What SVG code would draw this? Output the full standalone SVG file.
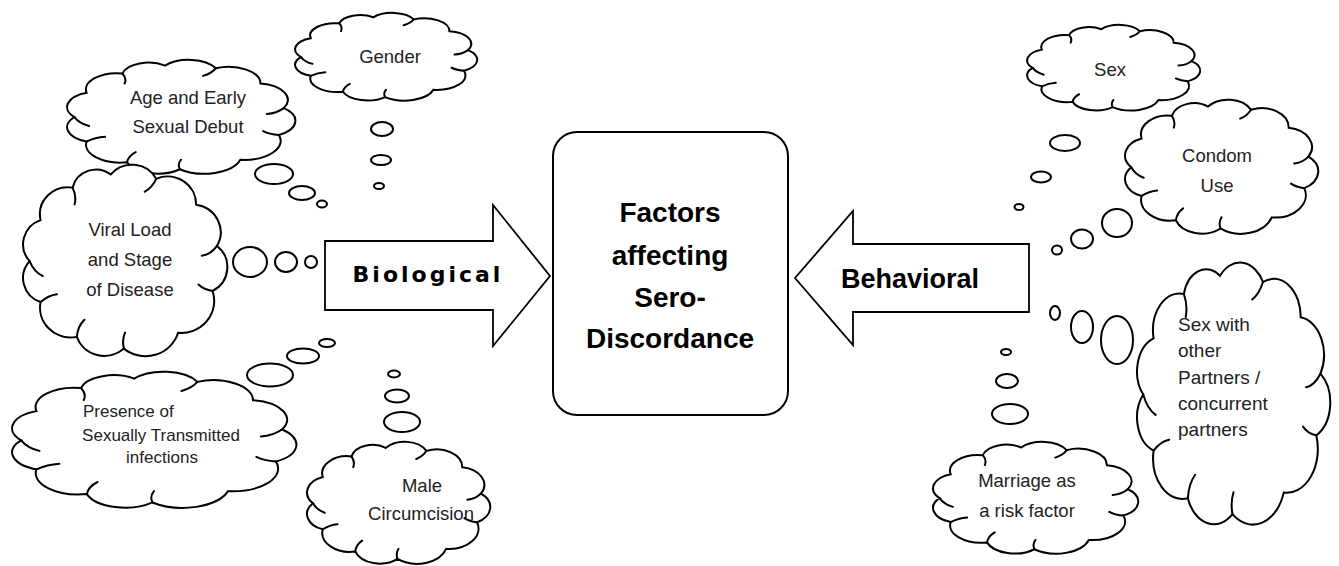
<svg xmlns="http://www.w3.org/2000/svg" xmlns:xlink="http://www.w3.org/1999/xlink" width="1339" height="566" viewBox="0 0 1339 566">
<style>
.cl{fill:#fff;stroke:#000;stroke-width:2;vector-effect:non-scaling-stroke}
.hk{fill:none;stroke:#000;stroke-width:2;vector-effect:non-scaling-stroke;stroke-linecap:round}
.bb{fill:#fff;stroke:#000;stroke-width:2}
.ar{fill:#fff;stroke:#000;stroke-width:1.8;stroke-linejoin:miter}
.box{fill:#fff;stroke:#000;stroke-width:2}
.t{font-family:"Liberation Sans",Arial,sans-serif;font-size:18.5px;fill:#222;text-anchor:middle}
.ts{font-size:17px}
.tl{font-size:19px;text-anchor:start}
.tc{font-family:"Liberation Sans",Arial,sans-serif;font-size:28px;font-weight:bold;fill:#000;text-anchor:middle}
.tbio{font-family:"DejaVu Sans",Verdana,sans-serif;font-size:22px;font-weight:bold;letter-spacing:3px;fill:#000;text-anchor:middle}
.tbeh{font-family:"Liberation Sans",Arial,sans-serif;font-size:27px;font-weight:bold;fill:#000;text-anchor:middle}
</style>
<defs>
<path id="cloud" class="cl" d="M7,50 A12,12 0 0 1 12,30.8 A12.7,12.7 0 0 1 26.6,15.6 A11,11 0 0 1 44,9.4 A12.5,12.5 0 0 1 64.7,11.5 A13,13 0 0 1 82.9,23.6 A13,13 0 0 1 92.4,42.9 A12.7,12.7 0 0 1 90.4,64 A15,15 0 0 1 74.7,83.6 A15.5,15.5 0 0 1 50,91 A13.3,13.3 0 0 1 28.5,85.5 A14,14 0 0 1 12,69.2 A12,12 0 0 1 7,50 Z"/>
<path id="hooks" class="hk" d="M7,50 Q9,55 13,57 M26.6,15.6 Q28.5,19.5 27.5,23.5 M64.7,11.5 Q63,15.5 59.5,17.5 M92.4,42.9 Q89.5,47 85.5,47.5 M90.4,64 Q86.5,63.5 84,61 M50,91 Q49,87 50.5,83.5 M28.5,85.5 Q29,80.5 32,77.5 M12,69.2 Q15.5,66 19.5,65.5"/>
</defs>
<rect width="1339" height="566" fill="#fff"/>

<g id="connectors">
<ellipse class="bb" cx="274" cy="174" rx="19" ry="10"/>
<ellipse class="bb" cx="302" cy="193" rx="13" ry="7"/>
<ellipse class="bb" cx="322" cy="204" rx="5" ry="3.5"/>
<ellipse class="bb" cx="382" cy="129" rx="11" ry="7"/>
<ellipse class="bb" cx="381" cy="160" rx="10" ry="5"/>
<ellipse class="bb" cx="379" cy="186" rx="5" ry="3"/>
<ellipse class="bb" cx="250" cy="262" rx="17" ry="15"/>
<ellipse class="bb" cx="286" cy="262" rx="11" ry="10"/>
<ellipse class="bb" cx="311" cy="262" rx="6" ry="6"/>
<ellipse class="bb" cx="270" cy="375" rx="23" ry="11.5"/>
<ellipse class="bb" cx="303" cy="356" rx="16" ry="7.5"/>
<ellipse class="bb" cx="327" cy="343" rx="8" ry="4"/>
<ellipse class="bb" cx="394" cy="374" rx="6" ry="3.5"/>
<ellipse class="bb" cx="397" cy="396" rx="12" ry="6.5"/>
<ellipse class="bb" cx="402" cy="422" rx="18" ry="10"/>
<ellipse class="bb" cx="1065" cy="143" rx="15" ry="8"/>
<ellipse class="bb" cx="1041" cy="177" rx="10" ry="5.5"/>
<ellipse class="bb" cx="1019" cy="207" rx="4.5" ry="3"/>
<ellipse class="bb" cx="1117" cy="223" rx="15" ry="14"/>
<ellipse class="bb" cx="1082" cy="239" rx="11" ry="9.5"/>
<ellipse class="bb" cx="1057" cy="250" rx="5" ry="4.5"/>
<ellipse class="bb" cx="1055" cy="313" rx="5" ry="7"/>
<ellipse class="bb" cx="1082" cy="327" rx="11" ry="16"/>
<ellipse class="bb" cx="1117" cy="340" rx="16" ry="24"/>
<ellipse class="bb" cx="1006" cy="352" rx="5" ry="3"/>
<ellipse class="bb" cx="1007" cy="381" rx="11" ry="7"/>
<ellipse class="bb" cx="1010" cy="414" rx="18" ry="10"/>
</g>

<g id="node-age">
<use xlink:href="#cloud" href="#cloud" transform="translate(67,60) scale(2.452,1.270) translate(-4,-5)"/>
<use xlink:href="#hooks" href="#hooks" transform="translate(67,60) scale(2.452,1.270) translate(-4,-5)"/>
<text class="t" x="188" y="104">Age and Early</text>
<text class="t" x="188" y="133">Sexual Debut</text>
</g>

<g id="node-gender">
<use xlink:href="#cloud" href="#cloud" transform="translate(295,13) scale(1.957,0.978) translate(-4,-5)"/>
<use xlink:href="#hooks" href="#hooks" transform="translate(295,13) scale(1.957,0.978) translate(-4,-5)"/>
<text class="t" x="390" y="63">Gender</text>
</g>

<g id="node-viral">
<use xlink:href="#cloud" href="#cloud" transform="translate(23,165) scale(2.194,2.135) translate(-4,-5)"/>
<use xlink:href="#hooks" href="#hooks" transform="translate(23,165) scale(2.194,2.135) translate(-4,-5)"/>
<text class="t" x="130" y="236">Viral Load</text>
<text class="t" x="130" y="266">and Stage</text>
<text class="t" x="130" y="296">of Disease</text>
</g>

<g id="node-sti">
<use xlink:href="#cloud" href="#cloud" transform="translate(12,372) scale(3.054,1.517) translate(-4,-5)"/>
<use xlink:href="#hooks" href="#hooks" transform="translate(12,372) scale(3.054,1.517) translate(-4,-5)"/>
<text class="t ts" x="83" y="417" style="text-anchor:start">Presence of</text>
<text class="t ts" x="161" y="441">Sexually Transmitted</text>
<text class="t ts" x="162" y="463">infections</text>
</g>

<g id="node-circumcision">
<use xlink:href="#cloud" href="#cloud" transform="translate(307,442) scale(1.968,1.360) translate(-4,-5)"/>
<use xlink:href="#hooks" href="#hooks" transform="translate(307,442) scale(1.968,1.360) translate(-4,-5)"/>
<text class="t" x="422" y="492">Male</text>
<text class="t" x="421" y="520">Circumcision</text>
</g>

<g id="node-biological">
<path class="ar" d="M325,241 L493,241 L493,205 L550,276 L493,346 L493,310 L325,310 Z"/>
<text class="tbio" x="428" y="282">Biological</text>
</g>

<g id="node-center">
<rect class="box" x="553" y="132" width="235" height="283" rx="24" ry="24"/>
<text class="tc" x="670" y="222">Factors</text>
<text class="tc" x="670" y="265">affecting</text>
<text class="tc" x="670" y="307">Sero-</text>
<text class="tc" x="670" y="348">Discordance</text>
</g>

<g id="node-behavioral">
<path class="ar" d="M1029,244 L853,244 L853,211 L795,278 L853,345 L853,312 L1029,312 Z"/>
<text class="tbeh" x="910" y="288">Behavioral</text>
</g>

<g id="node-sex">
<use xlink:href="#cloud" href="#cloud" transform="translate(1027,25) scale(1.860,0.955) translate(-4,-5)"/>
<use xlink:href="#hooks" href="#hooks" transform="translate(1027,25) scale(1.860,0.955) translate(-4,-5)"/>
<text class="t" x="1110" y="76">Sex</text>
</g>

<g id="node-condom">
<use xlink:href="#cloud" href="#cloud" transform="translate(1125,100) scale(2.075,1.494) translate(-4,-5)"/>
<use xlink:href="#hooks" href="#hooks" transform="translate(1125,100) scale(2.075,1.494) translate(-4,-5)"/>
<text class="t" x="1217" y="162">Condom</text>
<text class="t" x="1217" y="192">Use</text>
</g>

<g id="node-partners">
<use xlink:href="#cloud" href="#cloud" transform="translate(1137,263) scale(2.075,2.921) translate(-4,-5)"/>
<use xlink:href="#hooks" href="#hooks" transform="translate(1137,263) scale(2.075,2.921) translate(-4,-5)"/>
<text class="t tl" x="1178" y="331">Sex with</text>
<text class="t tl" x="1178" y="357">other</text>
<text class="t tl" x="1178" y="384">Partners /</text>
<text class="t tl" x="1178" y="410">concurrent</text>
<text class="t tl" x="1178" y="436">partners</text>
</g>

<g id="node-marriage">
<use xlink:href="#cloud" href="#cloud" transform="translate(933,442) scale(2.204,1.247) translate(-4,-5)"/>
<use xlink:href="#hooks" href="#hooks" transform="translate(933,442) scale(2.204,1.247) translate(-4,-5)"/>
<text class="t" x="1027" y="487">Marriage as</text>
<text class="t" x="1027" y="517">a risk factor</text>
</g>
</svg>
